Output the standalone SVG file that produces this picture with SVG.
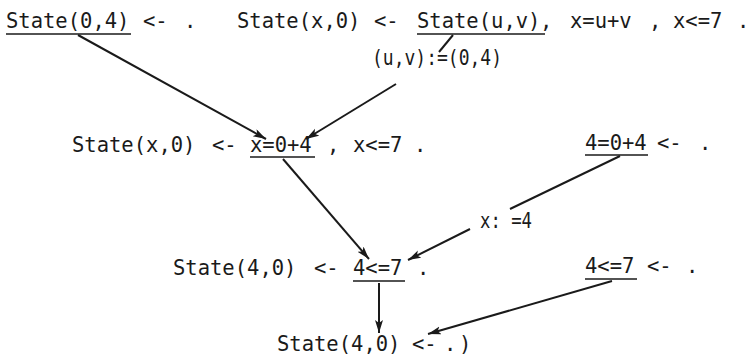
<svg xmlns="http://www.w3.org/2000/svg" width="750" height="360" viewBox="0 0 750 360">
<defs>
<style>
text{font-family:"DejaVu Sans Mono","Liberation Mono",monospace;font-size:20.5px;fill:#1a1a1a}
.u{stroke:#1a1a1a;stroke-width:1.6}
.c{stroke:#1a1a1a;stroke-width:2;fill:none}
</style>
<marker id="ah" markerUnits="userSpaceOnUse" markerWidth="14" markerHeight="10" refX="13" refY="4" orient="auto">
<path d="M0,0 L13,4 L0,8 L3,4 z" fill="#1a1a1a"/>
</marker>
</defs>
<rect width="750" height="360" fill="#fff"/>
<g id="clause1">
<text x="6" y="28">State(0,4)</text><line class="u" x1="6" y1="34" x2="131" y2="34"/>
<text x="143" y="28">&lt;-</text><text x="184" y="28">.</text>
</g>
<g id="clause2">
<text x="237" y="28">State(x,0)</text><text x="374" y="28">&lt;-</text>
<text x="417" y="28">State(u,v)</text><line class="u" x1="417" y1="34" x2="545" y2="34"/>
<text x="540" y="28">,</text><text x="570" y="28">x=u+v</text><text x="649" y="28">,</text>
<text x="673" y="28">x&lt;=7</text><text x="737" y="28">.</text>
</g>
<g id="label1"><text x="372" y="65" textLength="130" lengthAdjust="spacingAndGlyphs">(u,v):=(0,4)</text></g>
<g id="resolvent1">
<text x="72" y="152">State(x,0)</text><text x="212" y="152">&lt;-</text>
<text x="250" y="152">x=0+4</text><line class="u" x1="250" y1="157" x2="315" y2="157"/>
<text x="327" y="152">,</text><text x="353" y="152">x&lt;=7</text><text x="414" y="152">.</text>
</g>
<g id="clause3">
<text x="585" y="150">4=0+4</text><line class="u" x1="585" y1="155" x2="648" y2="155"/>
<text x="657" y="150">&lt;-</text><text x="699" y="150">.</text>
</g>
<g id="label2"><text x="480" y="228" textLength="52" lengthAdjust="spacingAndGlyphs">x: =4</text></g>
<g id="resolvent2">
<text x="173" y="275">State(4,0)</text><text x="314" y="275">&lt;-</text>
<text x="353" y="275">4&lt;=7</text><line class="u" x1="353" y1="281" x2="405" y2="281"/>
<text x="417" y="275">.</text>
</g>
<g id="clause4">
<text x="585" y="273">4&lt;=7</text><line class="u" x1="585" y1="279" x2="637" y2="279"/>
<text x="647" y="273">&lt;-</text><text x="686" y="273">.</text>
</g>
<g id="result">
<text x="277" y="351">State(4,0)</text><text x="412" y="351">&lt;-</text>
<text x="444" y="351">.</text><text x="459" y="351">)</text>
</g>
<g id="connectors">
<path class="c" d="M78,35 L266,139" marker-end="url(#ah)"/>
<path class="c" d="M453,35 L439,52"/>
<path class="c" d="M396,84 L306,139" marker-end="url(#ah)"/>
<path class="c" d="M283,159 L369,259" marker-end="url(#ah)"/>
<path class="c" d="M620,156 L510,209"/>
<path class="c" d="M470,229 L408,260" marker-end="url(#ah)"/>
<path class="c" d="M379,283 L379,333" marker-end="url(#ah)"/>
<path class="c" d="M612,281 L428,334" marker-end="url(#ah)"/>
</g>
</svg>
